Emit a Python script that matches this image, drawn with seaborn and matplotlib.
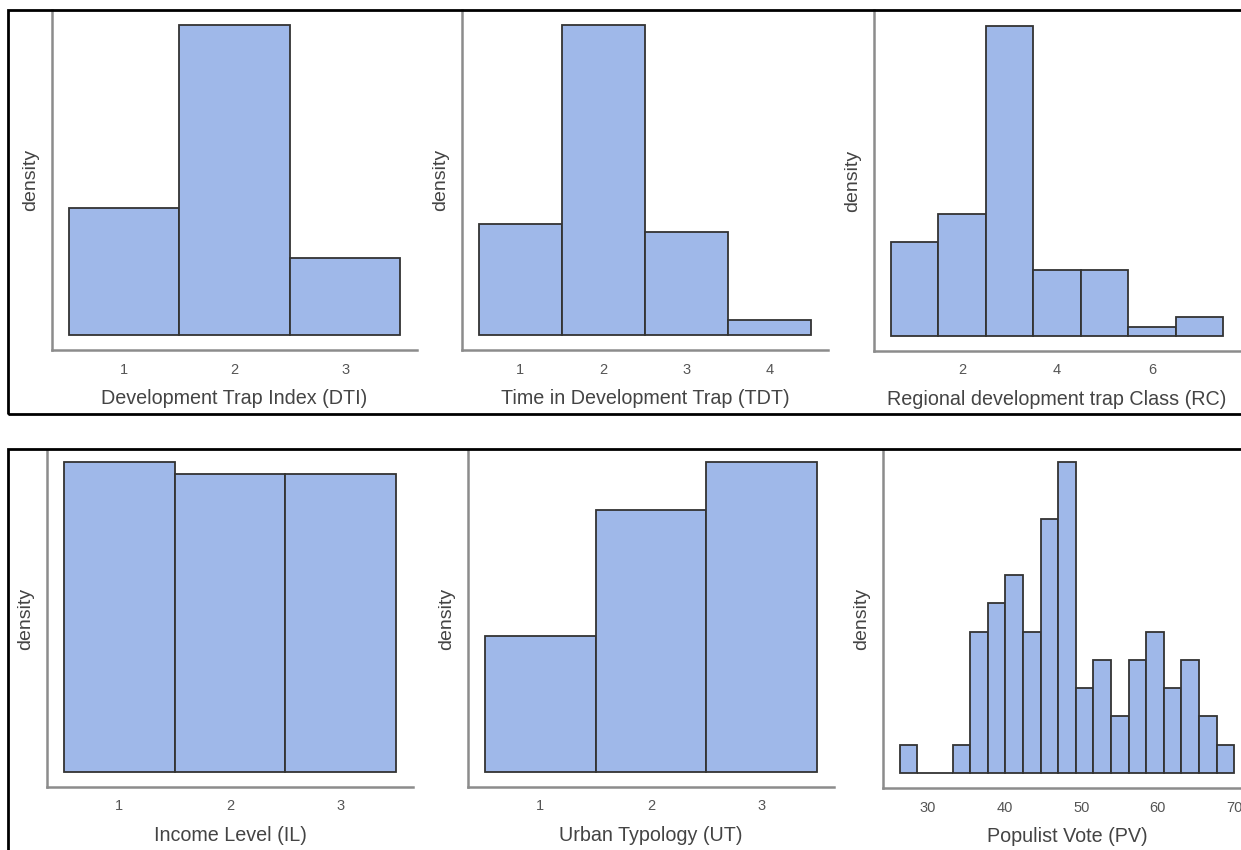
import numpy as np
import pandas as pd
import seaborn as sns
import matplotlib.pyplot as plt
from matplotlib.patches import Rectangle

sns.set_style("white")
plt.rcParams["font.family"] = ["Liberation Sans", "DejaVu Sans"]

# counts per bin (n = 73 regions)
dti_values = [1, 2, 3]
dti_counts = [18, 44, 11]

tdt_values = [1, 2, 3, 4]
tdt_counts = [15, 42, 14, 2]

rc_values = [1, 2, 3, 4, 5, 6, 7]
rc_counts = [10, 13, 33, 7, 7, 1, 2]

il_values = [1, 2, 3]
il_counts = [25, 24, 24]

ut_values = [1, 2, 3]
ut_counts = [14, 27, 32]

pv_min, pv_max, pv_nbins = 26.3, 70.0, 19
pv_counts = [1, 0, 0, 1, 5, 6, 7, 5, 9, 11, 3, 4, 2, 4, 5, 3, 4, 2, 1]

W, H = 1241, 850
FILL = "#9fb8e9"
EDGE = "#333333"
SPINE = "#8c8c8c"
TEXT = "#444444"

fig = plt.figure(figsize=(W / 100, H / 100), dpi=100)


def px_axes(x0, x1, y0, y1):
    return fig.add_axes([x0 / W, 1 - y1 / H, (x1 - x0) / W, (y1 - y0) / H])


def draw_hist(ax, values, counts, edges, label, ticks, below, above):
    df = pd.DataFrame({"v": list(values), "w": list(counts)})
    sns.histplot(data=df, x="v", weights="w", bins=list(edges), stat="density",
                 color=FILL, edgecolor=EDGE, linewidth=1.3, alpha=1, ax=ax)
    top = max(p.get_height() for p in ax.patches)
    ax.set_ylim(-below / 310 * top, above / 310 * top)
    span = edges[-1] - edges[0]
    ax.set_xlim(edges[0] - 0.05 * span, edges[-1] + 0.05 * span)
    ax.set_xticks(ticks)
    ax.set_yticks([])
    ax.set_xlabel(label, fontsize=14.2, color=TEXT, labelpad=9)
    ax.set_ylabel("density", fontsize=14, color=TEXT, labelpad=9)
    for s in ["top", "right"]:
        ax.spines[s].set_visible(False)
    for s in ["left", "bottom"]:
        ax.spines[s].set_color(SPINE)
        ax.spines[s].set_linewidth(1.8)
    ax.tick_params(axis="x", direction="out", length=4, width=1.5,
                   color="#555555", labelsize=10.5, labelcolor="#555555", pad=5)
    ax.set_facecolor("white")


def discrete_edges(values):
    return np.arange(min(values) - 0.5, max(values) + 1.0, 1.0)


pv_edges = np.linspace(pv_min, pv_max, pv_nbins + 1)
pv_centers = (pv_edges[:-1] + pv_edges[1:]) / 2

ax1 = px_axes(52, 417, 10, 350)
draw_hist(ax1, dti_values, dti_counts, discrete_edges(dti_values),
          "Development Trap Index (DTI)", [1, 2, 3], 15, 325)

ax2 = px_axes(462, 828, 10, 350)
draw_hist(ax2, tdt_values, tdt_counts, discrete_edges(tdt_values),
          "Time in Development Trap (TDT)", [1, 2, 3, 4], 15, 325)

ax3 = px_axes(874, 1240, 10, 351)
draw_hist(ax3, rc_values, rc_counts, discrete_edges(rc_values),
          "Regional development trap Class (RC)", [2, 4, 6], 15, 326)

ax4 = px_axes(47, 413, 450, 787)
draw_hist(ax4, il_values, il_counts, discrete_edges(il_values),
          "Income Level (IL)", [1, 2, 3], 15, 322)

ax5 = px_axes(468, 834, 450, 787)
draw_hist(ax5, ut_values, ut_counts, discrete_edges(ut_values),
          "Urban Typology (UT)", [1, 2, 3], 15, 322)

ax6 = px_axes(883, 1251, 450, 788)
draw_hist(ax6, pv_centers, pv_counts, pv_edges,
          "Populist Vote (PV)", [30, 40, 50, 60, 70], 15, 322)

# black frames around the two rows of output
for (x0, y0, x1, y1) in [(8, 10, 1260, 414), (8, 449, 1260, 870)]:
    fig.add_artist(Rectangle((x0 / W, 1 - y1 / H), (x1 - x0) / W, (y1 - y0) / H,
                             transform=fig.transFigure, fill=False,
                             edgecolor="black", linewidth=2))

fig.savefig("out.png", dpi=100, facecolor="white")
